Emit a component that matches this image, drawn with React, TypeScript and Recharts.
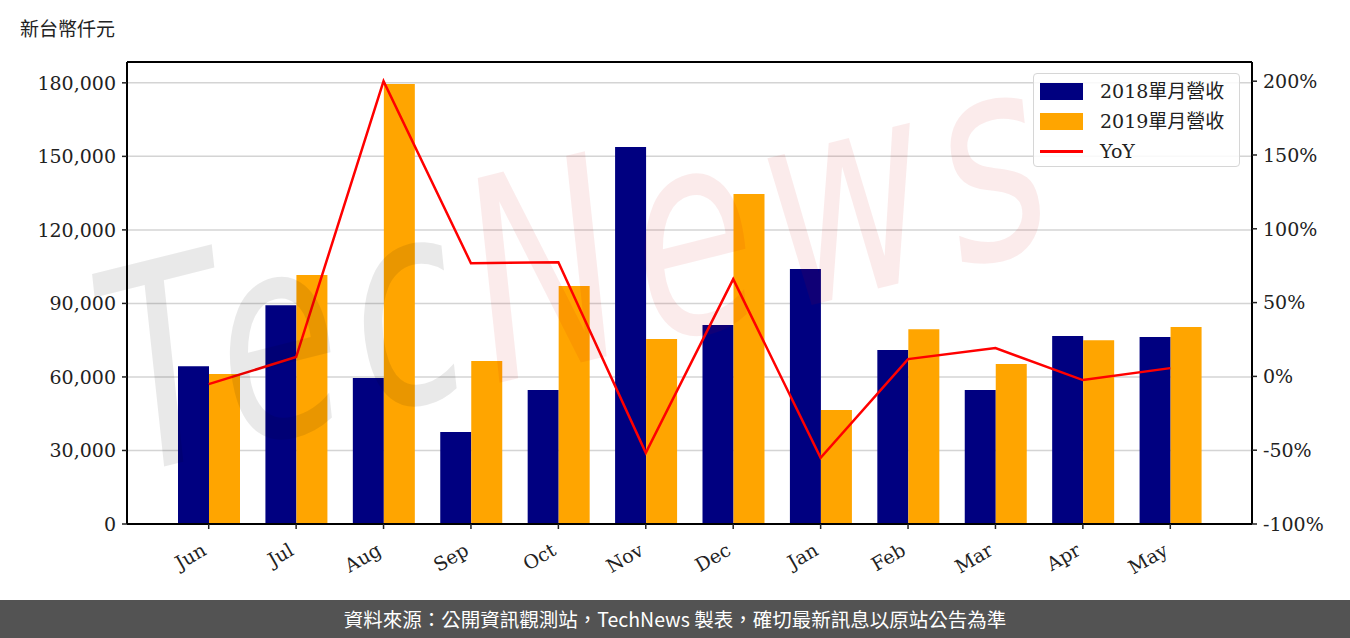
import { Bar, CartesianGrid, ComposedChart, Line, ReferenceLine, XAxis, YAxis } from 'recharts'

const months = ['Jun', 'Jul', 'Aug', 'Sep', 'Oct', 'Nov', 'Dec', 'Jan', 'Feb', 'Mar', 'Apr', 'May']
const rev2018 = [64400, 89300, 59600, 37500, 54700, 153800, 81200, 104000, 71000, 54700, 76700, 76300]
const rev2019 = [61200, 101600, 179500, 66500, 97100, 75500, 134600, 46500, 79500, 65300, 75000, 80400]
const yoy = [-5.2, 13.1, 200, 76.7, 77.4, -51.8, 65.9, -55.2, 11.7, 19.2, -2.5, 5.6]

const leftTicks = [0, 30000, 60000, 90000, 120000, 150000, 180000]
const rightTicks = [-100, -50, 0, 50, 100, 150, 200]

const NAVY = '#000080'
const ORANGE = '#FFA500'
const RED = '#FF0000'
const SERIF = '"DejaVu Serif", serif'
const CJK = '"Noto Sans CJK TC", sans-serif'
const LEFT_MAX = 188500
const RIGHT_MAX = 213

const data = months.map((m, i) => ({ month: m, a: rev2018[i], b: rev2019[i], yoy: yoy[i] }))

function MonthTick({ x, y, payload }: { x: number; y: number; payload: { value: string } }) {
  const ax = x - 1
  const ay = y + 23
  return (
    <text
      x={ax}
      y={ay}
      transform={`rotate(-30 ${ax} ${ay})`}
      textAnchor="end"
      fontFamily={SERIF}
      fontSize={19}
      fill="#222"
    >
      {payload.value}
    </text>
  )
}

// legend drawn as an overlay so it does not eat into the plot area
function LegendBox() {
  const rows = [
    { label: '2018單月營收', color: NAVY, kind: 'bar' },
    { label: '2019單月營收', color: ORANGE, kind: 'bar' },
    { label: 'YoY', color: RED, kind: 'line' },
  ]
  return (
    <div
      style={{
        position: 'absolute',
        left: 1033,
        top: 73,
        width: 207,
        height: 94,
        boxSizing: 'border-box',
        border: '1.5px solid #d6d6d6',
        borderRadius: 4,
        background: 'rgba(255,255,255,0.85)',
        padding: '2px 0 0 6px',
      }}
    >
      {rows.map((r) => (
        <div key={r.label} style={{ display: 'flex', alignItems: 'center', height: 30 }}>
          <span
            style={{
              width: 43,
              height: r.kind === 'bar' ? 17 : 3,
              background: r.color,
              display: 'inline-block',
            }}
          />
          <span
            style={{
              marginLeft: 17,
              fontFamily: `"DejaVu Serif", ${CJK}`,
              fontSize: 19,
              color: '#222',
              lineHeight: '20px',
            }}
          >
            {r.label}
          </span>
        </div>
      ))}
    </div>
  )
}

function Watermark() {
  return (
    <svg
      width={1350}
      height={600}
      style={{ position: 'absolute', left: 0, top: 0, pointerEvents: 'none' }}
    >
      <g transform="translate(130 475) rotate(-14) scale(1 1.4)">
        <text
          x={0}
          y={0}
          fontFamily='"DejaVu Sans", sans-serif'
          fontStyle="italic"
          fontSize={200}
          letterSpacing={15}
        >
          <tspan fill="rgba(0,0,0,0.085)">Tec</tspan>
          <tspan fill="rgba(210,0,0,0.08)">News</tspan>
        </text>
      </g>
    </svg>
  )
}

export default function App() {
  return (
    <div style={{ position: 'absolute', left: 0, top: 0, width: 1350, height: 638, background: '#fff' }}>
      <div
        style={{
          position: 'absolute',
          left: 20,
          top: 15,
          fontFamily: CJK,
          fontSize: 19,
          color: '#222',
          lineHeight: '26px',
        }}
      >
        新台幣仟元
      </div>
      <ComposedChart
        width={1350}
        height={600}
        data={data}
        margin={{ top: 62, right: 8, left: 27, bottom: 16 }}
        barGap={0}
      >
        <CartesianGrid
          yAxisId="left"
          vertical={false}
          stroke="#d4d4d4"
          strokeWidth={1.5}
          horizontalValues={leftTicks}
        />
        <XAxis
          dataKey="month"
          padding={{ left: 38, right: 38 }}
          height={60}
          axisLine={{ stroke: '#000', strokeWidth: 2 }}
          tickLine={{ stroke: '#222', strokeWidth: 1.5 }}
          tickSize={5}
          interval={0}
          tick={MonthTick as any}
        />
        <YAxis
          yAxisId="left"
          orientation="left"
          width={100}
          domain={[0, LEFT_MAX]}
          ticks={leftTicks}
          tickFormatter={(v: number) => v.toLocaleString('en-US')}
          axisLine={{ stroke: '#000', strokeWidth: 2 }}
          tickLine={{ stroke: '#222', strokeWidth: 1.5 }}
          tickSize={5}
          tickMargin={6}
          tick={{ fill: '#222', fontSize: 19, fontFamily: SERIF }}
          allowDataOverflow
        />
        <YAxis
          yAxisId="right"
          orientation="right"
          width={90}
          domain={[-100, RIGHT_MAX]}
          ticks={rightTicks}
          tickFormatter={(v: number) => `${v}%`}
          axisLine={{ stroke: '#000', strokeWidth: 2 }}
          tickLine={{ stroke: '#222', strokeWidth: 1.5 }}
          tickSize={5}
          tickMargin={6}
          tick={{ fill: '#222', fontSize: 19, fontFamily: SERIF }}
          allowDataOverflow
        />
        <ReferenceLine yAxisId="left" y={LEFT_MAX} stroke="#000" strokeWidth={2} />
        <Bar yAxisId="left" dataKey="a" name="2018單月營收" fill={NAVY} barSize={31} isAnimationActive={false} />
        <Bar yAxisId="left" dataKey="b" name="2019單月營收" fill={ORANGE} barSize={31} isAnimationActive={false} />
        <Line
          yAxisId="right"
          dataKey="yoy"
          name="YoY"
          type="linear"
          stroke={RED}
          strokeWidth={2.5}
          dot={false}
          activeDot={false}
          isAnimationActive={false}
        />
      </ComposedChart>
      <Watermark />
      <LegendBox />
      <div
        style={{
          position: 'absolute',
          left: 0,
          top: 600,
          width: 1350,
          height: 38,
          background: '#535353',
          color: '#fff',
          fontFamily: CJK,
          fontSize: 19.5,
          lineHeight: '38px',
          textAlign: 'center',
        }}
      >
        資料來源：公開資訊觀測站，TechNews 製表，確切最新訊息以原站公告為準
      </div>
    </div>
  )
}
